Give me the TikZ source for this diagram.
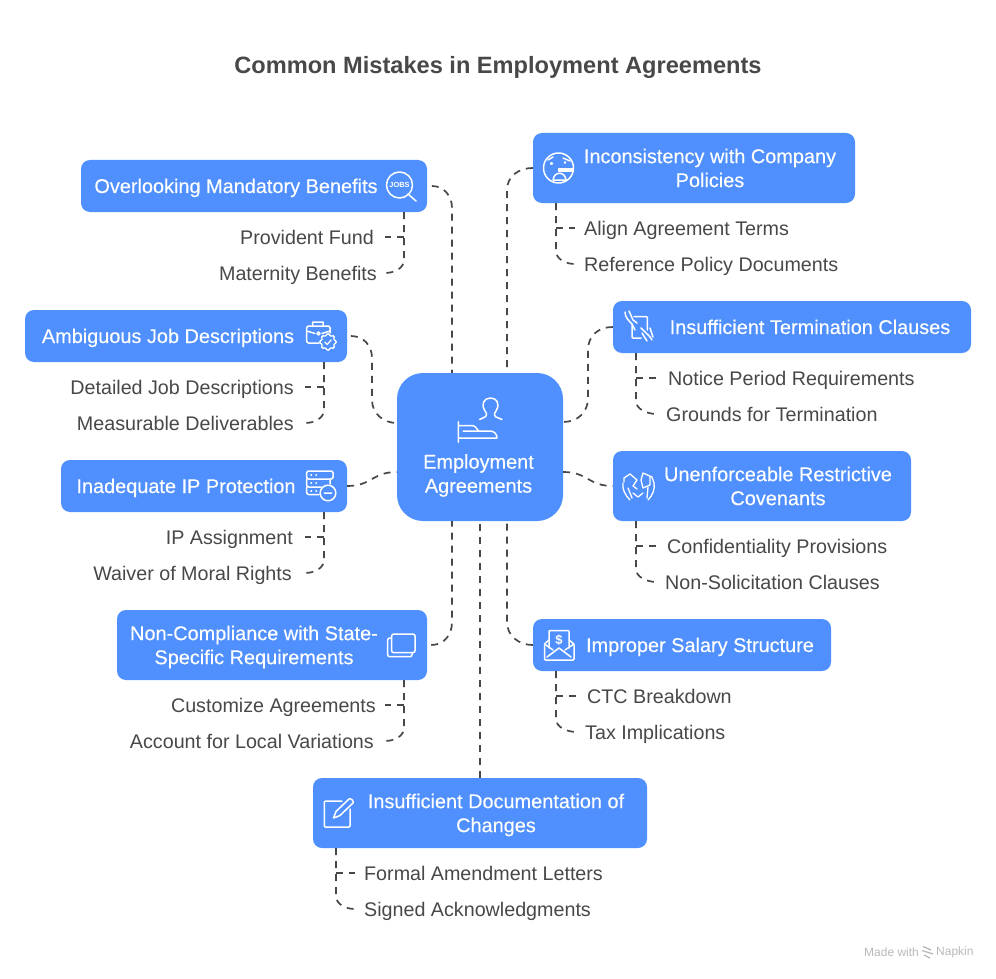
\documentclass[tikz,border=0pt]{standalone}
\usepackage{fontspec}
\setmainfont{Liberation Sans}
\newfontfamily\medfont[FakeBold=0.25]{Liberation Sans}
\definecolor{bluebox}{HTML}{4F90FE}
\definecolor{ink}{HTML}{484848}
\definecolor{wm}{HTML}{B9B9B9}
\tikzset{
  box/.style={fill=bluebox,rounded corners=9pt,inner sep=0pt},
  hub/.style={box,rounded corners=26pt},
  twolines/.style={text=white,font=\medfont\fontsize{19.9}{24}\selectfont,inner sep=0pt,align=center},
  boxtext/.style={twolines,text height=14pt,text depth=0pt},
  item/.style={text=ink,font=\fontsize{19.7}{24}\selectfont,inner sep=0pt,text height=14pt,text depth=0pt},
  dashline/.style={draw=ink,line width=1.7pt,dash pattern=on 7pt off 6pt},
  ico/.style={draw=white,line width=1.5pt,line cap=round,line join=round},
}
\begin{document}
\begin{tikzpicture}[x=1pt,y=-1pt]
\useasboundingbox (0,0) rectangle (996,979);
\fill[white] (0,0) rectangle (996,979);
\node[text=ink,font=\bfseries\fontsize{23.6}{28}\selectfont,inner sep=0pt,text height=17pt,text depth=0pt] (title) at (498,65) {Common Mistakes in Employment Agreements};
% boxes
\node[hub,minimum width=166pt,minimum height=148pt] (hub) at (480,447) {};
\node[box,minimum width=346pt,minimum height=52pt] (a) at (254,186) {};
\node[box,minimum width=322pt,minimum height=52pt] (b) at (186,336) {};
\node[box,minimum width=286pt,minimum height=52pt] (c) at (204,486) {};
\node[box,minimum width=310pt,minimum height=70pt] (d) at (272,645) {};
\node[box,minimum width=334pt,minimum height=70pt] (e) at (480,813) {};
\node[box,minimum width=322pt,minimum height=70pt] (f) at (694,168) {};
\node[box,minimum width=358pt,minimum height=52pt] (g) at (792,327) {};
\node[box,minimum width=298pt,minimum height=70pt] (h) at (762,486) {};
\node[box,minimum width=298pt,minimum height=52pt] (i) at (682,645) {};
% box text
\node[twolines] (ht) at (478.5,475.5) {Employment\\Agreements};
\node[boxtext] (at) at (236,186) {Overlooking Mandatory Benefits};
\node[boxtext] (bt) at (168,336) {Ambiguous Job Descriptions};
\node[boxtext] (ct) at (186,486) {Inadequate IP Protection};
\node[twolines] (dt) at (254,647) {Non-Compliance with State-\\Specific Requirements};
\node[twolines] (et) at (496,815) {Insufficient Documentation of\\Changes};
\node[twolines] (ft) at (710,168) {Inconsistency with Company\\Policies};
\node[boxtext] (gt) at (810,327) {Insufficient Termination Clauses};
\node[twolines] (ht2) at (778,486) {Unenforceable Restrictive\\Covenants};
\node[boxtext] (it) at (700,645) {Improper Salary Structure};
% items
\node[item,anchor=east] (a1) at (374,237) {Provident Fund};
\node[item,anchor=east] (a2) at (377,273) {Maternity Benefits};
\node[item,anchor=east] (b1) at (294,387) {Detailed Job Descriptions};
\node[item,anchor=east] (b2) at (294,423) {Measurable Deliverables};
\node[item,anchor=east] (c1) at (293,537) {IP Assignment};
\node[item,anchor=east] (c2) at (292,573) {Waiver of Moral Rights};
\node[item,anchor=east] (d1) at (376,705) {Customize Agreements};
\node[item,anchor=east] (d2) at (374,741) {Account for Local Variations};
\node[item,anchor=west] (e1) at (364,873) {Formal Amendment Letters};
\node[item,anchor=west] (e2) at (364,909) {Signed Acknowledgments};
\node[item,anchor=west] (f1) at (584,228) {Align Agreement Terms};
\node[item,anchor=west] (f2) at (584,264) {Reference Policy Documents};
\node[item,anchor=west] (g1) at (668,378) {Notice Period Requirements};
\node[item,anchor=west] (g2) at (666,414) {Grounds for Termination};
\node[item,anchor=west] (h1) at (667,546) {Confidentiality Provisions};
\node[item,anchor=west] (h2) at (665,582) {Non-Solicitation Clauses};
\node[item,anchor=west] (i1) at (587,696) {CTC Breakdown};
\node[item,anchor=west] (i2) at (585,732) {Tax Implications};
% main connectors
\draw[dashline] ([xshift=5pt]a.east) -- (432,186) .. controls (444,186) and (452,196) .. (452,208) -- (hub.north -| 452,373);
\draw[dashline] ([xshift=4pt]b.east) -- (351,336) .. controls (364,336) and (372,346) .. (372,358) -- (372,400) .. controls (372,414) and (384,423) .. (hub.west |- 397,423);
\draw[dashline] (c.east) .. controls (372,486) and (372,472) .. (397,472);
\draw[dashline] ([xshift=4pt]d.east) .. controls (444,645) and (452,635) .. (452,622) -- (452,521);
\draw[dashline] (e.north) -- (480,521);
\draw[dashline] (f.west) .. controls (519,168) and (507,176) .. (507,190) -- (507,373);
\draw[dashline] (g.west) .. controls (598,327) and (588,336) .. (588,350) -- (588,398) .. controls (588,412) and (578,422) .. (563,422);
\draw[dashline] (hub.east |- 563,472) .. controls (588,472) and (588,486) .. (h.west);
\draw[dashline] (i.west) .. controls (519,645) and (507,636) .. (507,622) -- (507,521);
% sub connectors
\newcommand{\subl}[5]{% x, ytop, y1, y2, xend
  \draw[dashline] (#1,#2) -- (#1,#4-13) .. controls (#1,#4-5) and ({#5+(#1-#5)*0.5},#4) .. (#5,#4);
  \draw[dashline] (#1,#3) -- (#5,#3);}
\subl{404}{212}{237}{273}{385}
\subl{324}{362}{387}{423}{305}
\subl{324}{512}{537}{573}{305}
\subl{404}{680}{705}{741}{385}
\subl{336}{848}{873}{909}{355}
\subl{556}{203}{228}{264}{575}
\subl{636}{353}{378}{414}{657}
\subl{636}{521}{546}{582}{657}
\subl{556}{671}{696}{732}{577}
% icons
% hub person
\draw[ico] (479.5,419.5) -- (485,417) .. controls (488,415) and (486,412) .. (484.5,410) .. controls (481,404) and (484,398) .. (490.5,398) .. controls (497,398) and (500,404) .. (496.5,410) .. controls (495,412) and (493,415) .. (496,417) -- (502,419.5);
\draw[ico] (458.3,421.7) -- (458.3,442.3) (458.3,425.7) -- (473,425.7) .. controls (476,426) and (477,430) .. (479,431) -- (490,431) .. controls (494,431) and (497,434) .. (497,438) -- (458.3,438) (463,431) -- (479,431);
% JOBS
\draw[ico] (399.5,185) circle (13);
\draw[ico] (408,194) -- (416,201);
\node[text=white,font=\bfseries\fontsize{7.4}{8}\selectfont,inner sep=0pt] (jobs) at (399.5,185) {JOBS};
% briefcase
\draw[ico,rounded corners=2pt] (319,343) -- (306.7,343) -- (306.7,326) -- (330,326) -- (330,333);
\draw[ico] (306.7,331) -- (315,333.5) (322,333.5) -- (330,331) (312.5,326) -- (312.5,322) -- (323,322) -- (323,326);
\draw[ico] (318.5,333.5) circle (1.6);
\draw[ico,line width=1.3pt,smooth cycle] plot[domain=0:350,samples=36] ({328+(7.4+0.9*cos(8*\x))*cos(\x)},{342+(7.4+0.9*cos(8*\x))*sin(\x)});
\draw[ico,line width=1.2pt] (324.7,342) -- (327.2,344.5) -- (331.3,339.8);
% server
\draw[ico,rounded corners=2pt] (306.7,471) rectangle (333,479);
\draw[ico,rounded corners=2pt] (321,487) -- (306.7,487) -- (306.7,479) (330,479) -- (330,484) (306.7,487) -- (306.7,494.5) -- (319,494.5);
\draw[ico,line width=1.4pt] (311,475) -- (311.5,475) (316,475) -- (316.5,475) (311,483) -- (311.5,483) (316,483) -- (316.5,483) (311,491) -- (311.5,491) (316,491) -- (316.5,491);
\draw[ico] (328,493) circle (7.8) (324.3,493) -- (331.7,493);
% copy
\draw[ico,rounded corners=2pt] (391.7,634) rectangle (415,652.7);
\draw[ico,rounded corners=2pt] (391.7,638) -- (387.7,638) -- (387.7,656.7) -- (412,656.7) -- (412,652.7);
% pencil
\draw[ico,rounded corners=1pt] (342,801) -- (324.3,801) -- (324.3,827) -- (350,827) -- (350,809);
\draw[ico] (349,799) -- (336,811.5) -- (333.5,818) -- (340,815.5) -- (353,803) .. controls (354,801) and (351,798) .. (349,799) -- cycle;
% face
\draw[ico] (558.5,168) circle (15);
\draw[ico] (548,160) -- (553,157) (563,158) -- (570,161);
\draw[ico,line width=1.4pt] (551.5,163.5) circle (1) (565,162.5) circle (0.7);
\fill[white] (558,168) rectangle (574,172);
\draw[ico] (553,180) .. controls (554,171) and (565,171) .. (566,180) -- cycle;
% hands & doc
\draw[ico,rounded corners=1pt] (634,316.5) -- (647.3,316.5) -- (647.3,330) (641,338) -- (632,338) -- (632,325);
\draw[ico] (625,312) .. controls (625,317) and (628,320) .. (632,324) -- (635,330) (629,311) -- (633,320) -- (637,323);
\draw[ico] (652,340) .. controls (650,336) and (647,334) .. (644,331) -- (641,328) (647,341) -- (642,333) (650,328) -- (653,337);
% hands
\draw[ico,line width=1.3pt] (624,482) -- (624,478) -- (630,474) -- (637,480) -- (633,486) -- (637,489) (643,488) -- (641,480) -- (643,473) -- (652,477) -- (654,483) (650,477) -- (650,485) -- (643,488);
\draw[ico,line width=1.3pt] (623,483) .. controls (622,489) and (625,495) .. (630,500) (654,483) .. controls (655,489) and (653,495) .. (648,500) (628,488) -- (632,498) (648,487) -- (647,498) (633,493) -- (638,497) -- (643,493);
% envelope
\draw[ico,rounded corners=1pt] (549,640) -- (544.5,644) -- (544.5,660) -- (574,660) -- (574,644) -- (569,640);
\draw[ico,rounded corners=1pt] (549,648) -- (549,630.5) -- (569,630.5) -- (569,648);
\draw[ico] (544.5,644) -- (553,650) (574,644) -- (565,650) (547,657) -- (559,648) -- (571,657);
\node[text=white,font=\bfseries\fontsize{13}{14}\selectfont,inner sep=0pt] (dollar) at (559,640) {\$};
% watermark
\node[text=wm,font=\fontsize{12}{13}\selectfont,inner sep=0pt,anchor=west] (wm1) at (864,952) {Made with};
\draw[wm,line width=1.3pt] (923,946.5) -- (931,950) (922,950.5) -- (933,954) (924,955) -- (930,958);
\node[text=wm,font=\fontsize{12}{13}\selectfont,inner sep=0pt,anchor=west] (wm2) at (936,952) {Napkin};
\end{tikzpicture}
\end{document}
